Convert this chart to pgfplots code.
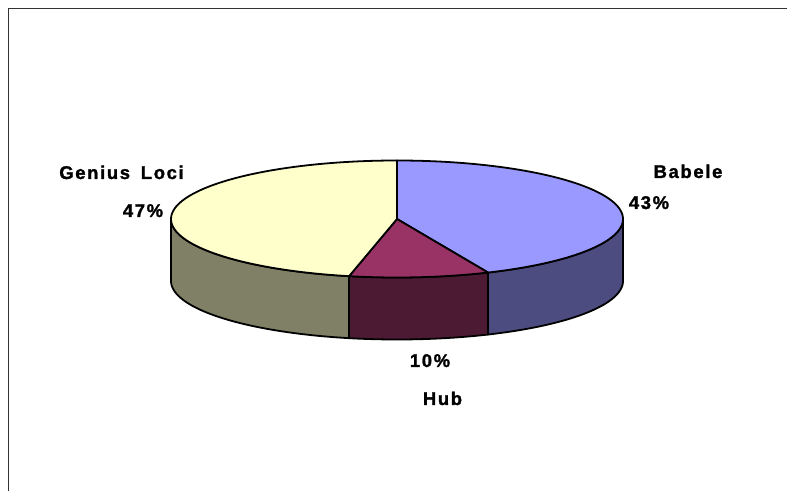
\documentclass[border=0pt]{standalone}
\usepackage{pgfplots}
\pgfplotsset{compat=1.18}
\usepackage{fontspec}
\setmainfont{Liberation Sans}[LetterSpace=9, BoldFeatures={FakeBold=1.5}]
\definecolor{babtop}{HTML}{9999FF}
\definecolor{babside}{HTML}{4C4C80}
\definecolor{hubtop}{HTML}{993366}
\definecolor{hubside}{HTML}{4D1A33}
\definecolor{gentop}{HTML}{FFFFCC}
\definecolor{genside}{HTML}{808066}
% data (percent)
\def\vBabele{43.4}
\def\vHub{10.0}
\def\vGenius{46.6}
% geometry of the pie (in px units)
\def\cx{397}\def\cy{272}\def\ra{226}\def\rb{58.5}\def\dep{62}
\newcommand\topwedge[3]{%
\addplot[fill=#1, draw=black, line width=1.8pt, line join=round,
  samples at={-1,0,1,...,100}, variable=\t]
 ({\cx + (\t>=0)*\ra*cos(#2+(#3-#2)*\t/100)},
  {\cy + (\t>=0)*\rb*sin(#2+(#3-#2)*\t/100)}) -- cycle;}
\newcommand\sidewedge[3]{%
\addplot[fill=#1, draw=black, line width=1.8pt, line join=round,
  samples at={0,1,...,50,50.001,51,52,...,100}, variable=\t]
 ({\cx + \ra*cos(#2+(#3-#2)*min(\t,100-\t)/50)},
  {\cy + \rb*sin(#2+(#3-#2)*min(\t,100-\t)/50) - \dep*(\t>50)}) -- cycle;}
\begin{document}
\begin{tikzpicture}
\pgfmathsetmacro\tA{90}
\pgfmathsetmacro\tB{90-3.6*\vBabele}
\pgfmathsetmacro\tC{\tB-3.6*\vHub}
\pgfmathsetmacro\tD{\tC-3.6*\vGenius}
\begin{axis}[hide axis, scale only axis, width=787bp, height=491bp,
  xmin=0, xmax=787, ymin=0, ymax=491, clip=false]
% sides (visible front half, angles between -180 and 0)
\sidewedge{babside}{\tB}{0}
\sidewedge{hubside}{\tC}{\tB}
\sidewedge{genside}{-180}{\tC}
% tops
\topwedge{babtop}{\tA}{\tB}
\topwedge{hubtop}{\tB}{\tC}
\topwedge{gentop}{\tC}{\tD}
% frame
\draw[line width=1.6pt, black!80] (axis cs:8.5,0) -- (axis cs:8.5,482.5) -- (axis cs:787,482.5);
% labels
\begin{scope}[every node/.style={anchor=base, inner sep=0pt, font=\fontsize{18.5}{22}\selectfont\bfseries}]
\node at (axis cs:121.5,312) {Genius\hspace{4pt} Loci};
\node at (axis cs:143,274) {47\%};
\node at (axis cs:688,313) {Babele};
\node at (axis cs:649,282) {43\%};
\node at (axis cs:430,124) {10\%};
\node at (axis cs:442.5,86) {Hub};
\end{scope}
\end{axis}
\pgfresetboundingbox
\useasboundingbox (current axis.south west) rectangle (current axis.north east);
\end{tikzpicture}
\end{document}
